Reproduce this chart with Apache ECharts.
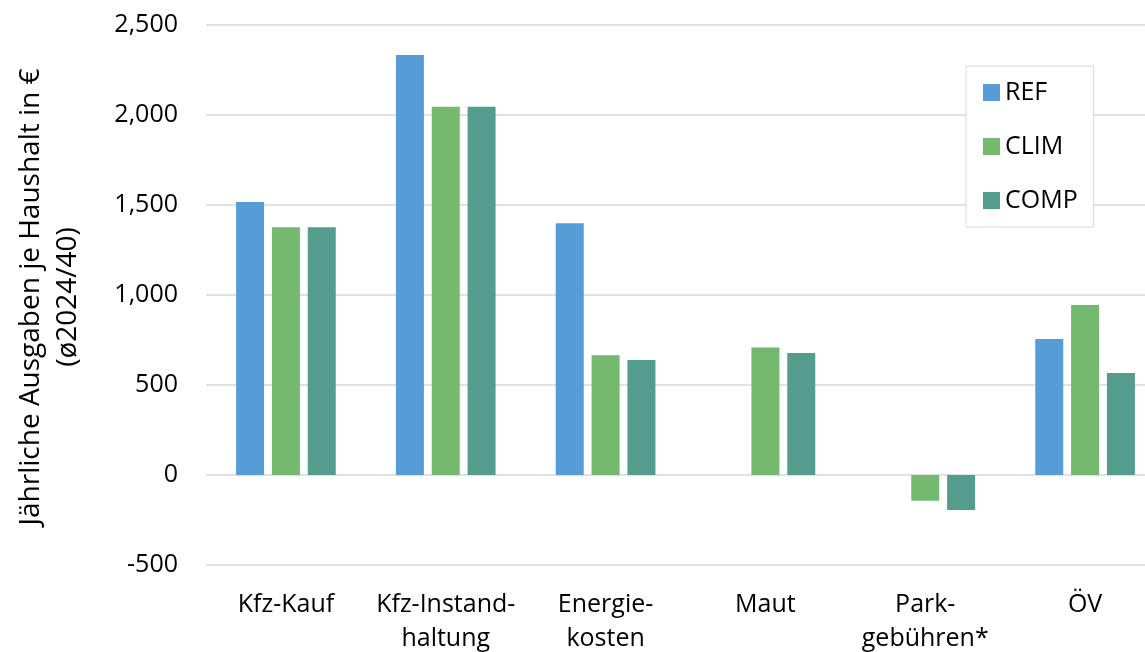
<!DOCTYPE html>
<html>
<head>
<meta charset="utf-8">
<script src="https://cdn.jsdelivr.net/npm/echarts@6/dist/echarts.min.js"></script>
<style>html,body{margin:0;padding:0;background:#fff;overflow:hidden;width:1145px;height:652px}#c{width:1165px;height:652px}</style>
</head>
<body>
<div id="c"></div>
<script>
const categories = ['Kfz-Kauf', 'Kfz-Instand-\nhaltung', 'Energie-\nkosten', 'Maut', 'Park-\ngebühren*', 'ÖV'];
const seriesNames = ['REF', 'CLIM', 'COMP'];
const refValues  = [1517, 2333, 1398, 0, 0, 756];
const climValues = [1376, 2046, 665, 709, -143, 944];
const compValues = [1376, 2046, 639, 678, -194, 567];
const yTicks = { min: -500, max: 2500, interval: 500 };
const colors = ['#569CD6', '#73BA6E', '#549D8C'];

const FONT = '"Open Sans", sans-serif';
const FS = 25;
const chart = echarts.init(document.getElementById('c'));
chart.setOption({
  animation: false,
  textStyle: { fontFamily: FONT },
  grid: { left: 206, right: 0, top: 25, bottom: 87, containLabel: false, outerBoundsMode: 'none' },
  legend: {
    orient: 'vertical', left: 966, top: 66,
    padding: [14, 16, 14, 17],
    itemWidth: 17, itemHeight: 17, itemGap: 29,
    backgroundColor: '#fff', borderColor: '#d9d9d9', borderWidth: 1,
    textStyle: { fontFamily: FONT, fontSize: FS, color: '#000', lineHeight: 25 },
    icon: 'rect',
    data: seriesNames
  },
  xAxis: {
    type: 'category', data: categories,
    axisLine: { show: false, onZero: false }, axisTick: { show: false },
    axisLabel: { fontFamily: FONT, fontSize: FS, color: '#000', margin: 23, lineHeight: 34, interval: 0 }
  },
  yAxis: {
    type: 'value', min: yTicks.min, max: yTicks.max, interval: yTicks.interval,
    axisLine: { show: false }, axisTick: { show: false },
    splitLine: { lineStyle: { color: '#d9d9d9', width: 1.5 } },
    axisLabel: {
      fontFamily: FONT, fontSize: FS, color: '#000', margin: 28,
      formatter: v => v.toLocaleString('en-US')
    }
  },
  graphic: [{
    type: 'text', x: 50, y: 297, rotation: Math.PI / 2,
    style: {
      text: 'Jährliche Ausgaben je Haushalt in €\n(ø2024/40)',
      font: '28px ' + FONT, fill: '#000', align: 'center', verticalAlign: 'middle', lineHeight: 37
    }
  }],
  series: [
    { name: seriesNames[0], type: 'bar', data: refValues, barWidth: 28, barGap: '28%', itemStyle: { color: colors[0] } },
    { name: seriesNames[1], type: 'bar', data: climValues, barWidth: 28, barGap: '28%', itemStyle: { color: colors[1] } },
    { name: seriesNames[2], type: 'bar', data: compValues, barWidth: 28, barGap: '28%', itemStyle: { color: colors[2] } }
  ]
});
</script>
</body>
</html>
